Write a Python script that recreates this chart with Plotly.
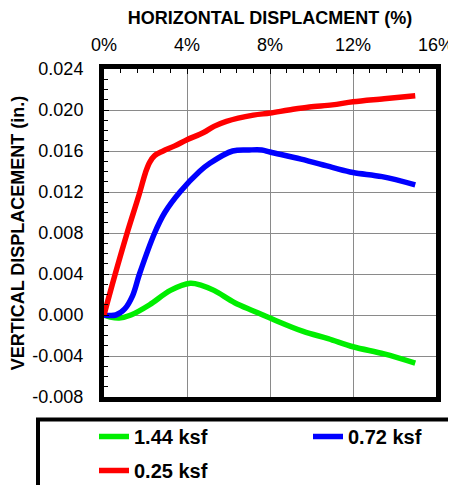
import plotly.graph_objects as go

# Data
green_x = [0, 0.3, 0.73, 1.3, 2.2, 3.2, 4.15, 4.7, 5.3, 6.3, 7.2, 8.0, 9.6, 10.8, 12.0, 13.5, 15.0]
green_y = [0.0, -0.0002, -0.0003, 0.0, 0.0010, 0.0024, 0.0031, 0.0029, 0.0024, 0.0012, 0.0004, -0.0003, -0.0016, -0.0023, -0.0031, -0.0038, -0.0047]

blue_x = [0, 0.57, 1.0, 1.38, 1.71, 2.44, 2.93, 3.66, 4.6, 5.1, 6.2, 7.0, 7.6, 8.0, 9.5, 11.0, 12.0, 13.4, 15.0]
blue_y = [0.0, 0.0, 0.0006, 0.0019, 0.0040, 0.0080, 0.0100, 0.0120, 0.0140, 0.0148, 0.0160, 0.0161, 0.0161, 0.0159, 0.0152, 0.0144, 0.0139, 0.0135, 0.0127]

red_x = [0, 0.5, 1.1, 1.7, 2.0, 2.2, 2.44, 2.85, 3.41, 4.0, 4.8, 5.3, 5.9, 7.2, 8.0, 8.9, 9.9, 11.0, 12.0, 13.5, 15.0]
red_y = [0.0, 0.0037, 0.0079, 0.0118, 0.0139, 0.0149, 0.01555, 0.0160, 0.0165, 0.0171, 0.0178, 0.0184, 0.0189, 0.0195, 0.0197, 0.0200, 0.0203, 0.0205, 0.0208, 0.0211, 0.0214]

series_names = ["1.44 ksf", "0.72 ksf", "0.25 ksf"]
series_colors = ["#00ee00", "#0000ff", "#ff0000"]
series_legends = ["legend", "legend2", "legend"]

x_ticks = [0, 4, 8, 12, 16]
y_ticks = [-0.008, -0.004, 0.0, 0.004, 0.008, 0.012, 0.016, 0.020, 0.024]

FONT = "Liberation Sans, Arial, sans-serif"

# page body has an 8px offset; figure is sized to fill the rest of the window
W, H = 448, 477
ML, MR, MT, MB = 96, 20, 61, 88
PW, PH = W - ML - MR, H - MT - MB
OFF = 8


def px_to_paper_x(px):
    return (px - OFF - ML) / PW


def px_to_paper_y(py):
    return (H - MB - (py - OFF)) / PH


fig = go.Figure()
for xs, ys, name, color, lg in zip([green_x, blue_x, red_x], [green_y, blue_y, red_y],
                                   series_names, series_colors, series_legends):
    fig.add_trace(go.Scatter(x=xs, y=ys, mode="lines", name=name, legend=lg, legendgroup=name,
                             line=dict(color=color, width=5.5, shape="spline", smoothing=1.0)))

legend_font = dict(family=FONT, size=20, weight=700, color="black")
fig.update_layout(
    width=W, height=H,
    margin=dict(l=ML, r=MR, t=MT, b=MB, autoexpand=False),
    paper_bgcolor="white", plot_bgcolor="white",
    font=dict(family=FONT, color="black", size=18),
    showlegend=True,
    legend=dict(orientation="v", x=px_to_paper_x(94), xanchor="left",
                y=px_to_paper_y(417), yanchor="top", font=legend_font,
                tracegroupgap=5, traceorder="grouped", bgcolor="rgba(0,0,0,0)"),
    legend2=dict(orientation="v", x=px_to_paper_x(308), xanchor="left",
                 y=px_to_paper_y(417), yanchor="top", font=legend_font,
                 bgcolor="rgba(0,0,0,0)"),
    xaxis=dict(side="top", range=[0, 16], tickmode="array", tickvals=x_ticks,
               ticktext=[f"{v}%" for v in x_ticks],
               title=dict(text="<b>HORIZONTAL DISPLACMENT (%)</b>", font=dict(size=18)),
               automargin=False,
               showgrid=True, gridcolor="#8a8a8a", gridwidth=1,
               showline=True, linecolor="black", linewidth=5, mirror=True,
               ticks="inside", ticklen=5, tickcolor="black",
               minor=dict(dtick=0.8, ticks="inside", ticklen=4, tickcolor="black", showgrid=False),
               zeroline=False, ticklabelstandoff=6, fixedrange=True),
    yaxis=dict(range=[-0.008, 0.024], tickmode="array", tickvals=y_ticks,
               ticktext=[f"{v:.3f}" for v in y_ticks],
               title=dict(text="<b>VERTICAL DISPLACEMENT (in.)</b>", font=dict(size=18)),
               automargin=False,
               showgrid=True, gridcolor="#8a8a8a", gridwidth=1,
               showline=True, linecolor="black", linewidth=5, mirror=True,
               ticks="inside", ticklen=5, tickcolor="black",
               minor=dict(dtick=0.001, ticks="inside", ticklen=4, tickcolor="black", showgrid=False),
               zeroline=False, ticklabelstandoff=12, fixedrange=True),
)

# Legend frame (extends past right/bottom edges, as in the reference)
fig.add_shape(type="rect", xref="paper", yref="paper",
              x0=px_to_paper_x(38), x1=px_to_paper_x(475),
              y0=px_to_paper_y(419.5), y1=px_to_paper_y(500),
              line=dict(color="black", width=4), fillcolor="rgba(0,0,0,0)")

fig.write_html("out.html")
